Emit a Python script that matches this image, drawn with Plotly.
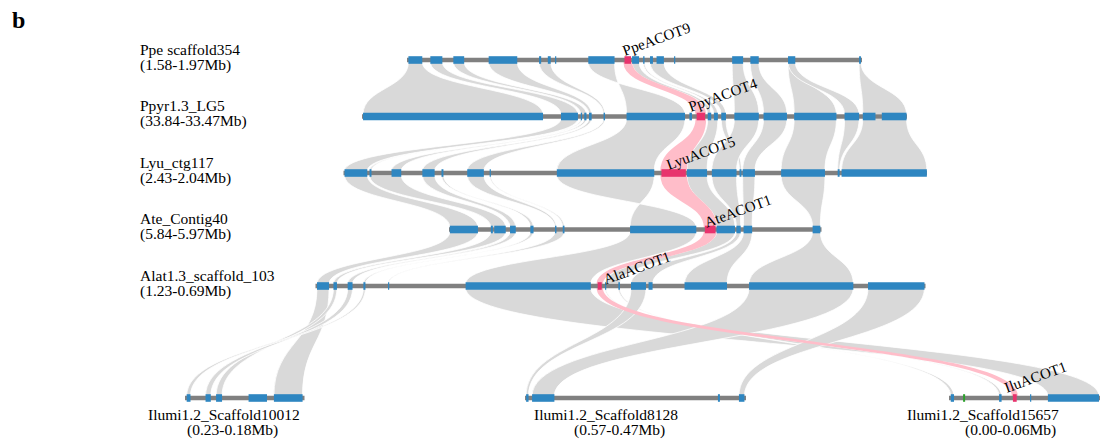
import plotly.graph_objects as go

# ---------------- data (genomic coordinates, Mb) ----------------
track_names = ["Ppe scaffold354", "Ppyr1.3_LG5", "Lyu_ctg117", "Ate_Contig40",
               "Alat1.3_scaffold_103", "Ilumi1.2_Scaffold10012",
               "Ilumi1.2_Scaffold8128", "Ilumi1.2_Scaffold15657"]
track_start_mb = [1.58, 33.84, 2.43, 5.84, 1.23, 0.23, 0.57, 0.00]
track_end_mb = [1.97, 33.47, 2.04, 5.97, 0.69, 0.18, 0.47, 0.06]

ppe_genes = [(1.5812, 1.5931), (1.6000, 1.6103), (1.6197, 1.6290), (1.6500, 1.6745),
             (1.6932, 1.6950), (1.7007, 1.7032), (1.7069, 1.7079), (1.7354, 1.7579),
             (1.7664, 1.7720), (1.7729, 1.7789), (1.7824, 1.7836), (1.7883, 1.7908),
             (1.7939, 1.8002), (1.8089, 1.8095), (1.8587, 1.8681), (1.8743, 1.8815),
             (1.9066, 1.9128), (1.9675, 1.9691)]
ppy_genes = [(33.8393, 33.7171), (33.7049, 33.6934), (33.6915, 33.6906), (33.6891, 33.6876),
             (33.6859, 33.6841), (33.6760, 33.6750), (33.6604, 33.6207), (33.6177, 33.6160),
             (33.6128, 33.6071), (33.6053, 33.6029), (33.6011, 33.5984), (33.5961, 33.5929),
             (33.5872, 33.5706), (33.5674, 33.5515), (33.5466, 33.5179), (33.5124, 33.5025),
             (33.5000, 33.4914), (33.4871, 33.4703)]
lyu_genes = [(2.4293, 2.4141), (2.4126, 2.4113), (2.3979, 2.3914), (2.3773, 2.3691),
             (2.3645, 2.3632), (2.3473, 2.3362), (2.3323, 2.3315), (2.2874, 2.2223),
             (2.2175, 2.2012), (2.2004, 2.1870), (2.1838, 2.1673), (2.1653, 2.1640),
             (2.1632, 2.1550), (2.1375, 2.1082), (2.0997, 2.0984), (2.0971, 2.0401)]
ate_genes = [(5.8403, 5.8501), (5.8546, 5.8553), (5.8558, 5.8598), (5.8613, 5.8633),
             (5.8684, 5.8695), (5.8770, 5.8775), (5.8797, 5.8803), (5.9032, 5.9263),
             (5.9293, 5.9330), (5.9334, 5.9398), (5.9403, 5.9418), (5.9428, 5.9458),
             (5.9669, 5.9696)]
alat_genes = [(1.2287, 1.2180), (1.2141, 1.2110), (1.2015, 1.1972), (1.1876, 1.1858),
              (1.1658, 1.1650), (1.0971, 0.9863), (0.9802, 0.9766), (0.9737, 0.9728),
              (0.9619, 0.9605), (0.9507, 0.9374), (0.9352, 0.9316), (0.9033, 0.8657),
              (0.8462, 0.7539), (0.7409, 0.6909)]
s10012_genes = [(0.2293, 0.2277), (0.2214, 0.2192), (0.2170, 0.2145), (0.2034, 0.1957),
                (0.1928, 0.1808)]
s8128_genes = [(0.5695, 0.5684), (0.5668, 0.5567), (0.4827, 0.4818), (0.4732, 0.4707)]
s15657_genes = [(0.0007, 0.0020), (0.0056, 0.0064), (0.0199, 0.0209), (0.0254, 0.0269),
                (0.0322, 0.0326), (0.0393, 0.0596)]
genes = [ppe_genes, ppy_genes, lyu_genes, ate_genes, alat_genes,
         s10012_genes, s8128_genes, s15657_genes]

# ACOT genes (track, gene index, name)
acot_track = [0, 1, 2, 3, 4, 7]
acot_gene = [8, 8, 8, 8, 6, 3]
acot_names = ["PpeACOT9", "PpyACOT4", "LyuACOT5", "AteACOT1", "AlaACOT1", "IluACOT1"]
other_track = [7]
other_gene = [1]

# syntenic links: (track A, first gene, last gene, track B, first gene, last gene, inverted)
links = [
    (0, 0, 0, 1, 0, 0, 0), (0, 1, 1, 1, 1, 1, 0), (0, 2, 2, 1, 2, 3, 0),
    (0, 3, 3, 1, 4, 4, 0), (0, 4, 5, 1, 5, 5, 0), (0, 7, 7, 1, 6, 6, 1),
    (0, 9, 9, 1, 9, 9, 0), (0, 10, 10, 1, 10, 10, 0), (0, 11, 12, 1, 11, 11, 0),
    (0, 14, 14, 1, 12, 12, 0), (0, 15, 15, 1, 13, 13, 0), (0, 16, 16, 1, 14, 14, 0),
    (0, 16, 16, 1, 15, 15, 0), (0, 17, 17, 1, 16, 17, 0),
    (1, 1, 1, 2, 0, 0, 0), (1, 2, 2, 2, 1, 1, 0), (1, 3, 3, 2, 2, 2, 0),
    (1, 4, 4, 2, 3, 3, 0), (1, 5, 5, 2, 5, 5, 0), (1, 6, 6, 2, 7, 7, 0),
    (1, 9, 10, 2, 9, 9, 0), (1, 11, 11, 2, 11, 11, 0), (1, 12, 12, 2, 10, 10, 0),
    (1, 13, 13, 2, 12, 12, 0), (1, 14, 14, 2, 13, 13, 0), (1, 15, 15, 2, 14, 14, 0),
    (1, 16, 17, 2, 15, 15, 0),
    (2, 0, 0, 3, 0, 0, 0), (2, 1, 2, 3, 1, 2, 0), (2, 3, 3, 3, 3, 3, 0),
    (2, 4, 4, 3, 4, 4, 0), (2, 5, 5, 3, 5, 5, 0), (2, 6, 6, 3, 6, 6, 0),
    (2, 7, 7, 3, 7, 7, 1), (2, 9, 9, 3, 9, 9, 0), (2, 10, 10, 3, 10, 10, 0),
    (2, 12, 12, 3, 11, 11, 0), (2, 13, 13, 3, 12, 12, 0),
    (3, 0, 0, 4, 0, 0, 0), (3, 1, 2, 4, 1, 1, 0), (3, 3, 3, 4, 2, 2, 0),
    (3, 4, 4, 4, 3, 3, 0), (3, 5, 6, 4, 4, 4, 0), (3, 7, 7, 4, 5, 5, 0),
    (3, 9, 9, 4, 7, 8, 0), (3, 10, 10, 4, 9, 10, 0), (3, 11, 11, 4, 11, 11, 0),
    (3, 12, 12, 4, 12, 12, 0),
    (4, 0, 0, 5, 4, 4, 0), (4, 1, 1, 5, 2, 2, 0), (4, 2, 2, 5, 1, 1, 0),
    (4, 3, 3, 5, 0, 0, 0), (4, 5, 5, 7, 5, 5, 0), (4, 7, 7, 7, 2, 2, 0),
    (4, 8, 8, 7, 0, 0, 0), (4, 9, 9, 6, 0, 0, 0), (4, 12, 12, 6, 1, 1, 0),
    (4, 13, 13, 6, 3, 3, 0),
]
acot_links = [
    (0, 8, 8, 1, 8, 8, 0), (1, 8, 8, 2, 8, 8, 0), (2, 8, 8, 3, 8, 8, 0),
    (3, 8, 8, 4, 6, 6, 0), (4, 6, 6, 7, 3, 3, 0),
]

# ---------------- layout (panel placement of each track) ----------------
track_row_y = [60, 116.5, 173, 229.5, 286, 398, 398, 398]
track_x0 = [407, 362, 343.5, 449, 315.5, 185, 525, 949]
track_x1 = [862, 907, 927, 821.5, 925.5, 304.5, 746, 1100]
label_line1_x = [138, 138, 138, 138, 138, 223.5, 606, 982.5]
label_line2_x = [138, 138, 138, 138, 138, 232, 619, 1010.5]
gene_label_dx = [29, 22, 27, 28, 37, 21]
gene_label_dy = [-21, -21.5, -20, -18.5, -18, -21]

BLUE = "#2e86c1"
PINK_BLOCK = "#e8336d"
PINK_LINK = "#ffbdc9"
GRAY_LINK = "#d9d9d9"
TRACK = "#808080"
GREEN = "#2ca02c"
FONT = "Liberation Serif, Times New Roman, serif"


def px(t, mb):
    s, e = track_start_mb[t], track_end_mb[t]
    return track_x0[t] + (mb - s) / (e - s) * (track_x1[t] - track_x0[t])


def ribbon_path(link):
    ta, a0, a1, tb, b0, b1, inv = link
    xa0 = px(ta, genes[ta][a0][0])
    xa1 = px(ta, genes[ta][a1][1])
    xb0 = px(tb, genes[tb][b0][0])
    xb1 = px(tb, genes[tb][b1][1])
    if inv:
        xb0, xb1 = xb1, xb0
    ya = track_row_y[ta] + 2
    yb = track_row_y[tb] - 2
    ym = (ya + yb) / 2
    return (f"M {xa0:.2f},{ya} C {xa0:.2f},{ym} {xb0:.2f},{ym} {xb0:.2f},{yb} "
            f"L {xb1:.2f},{yb} C {xb1:.2f},{ym} {xa1:.2f},{ym} {xa1:.2f},{ya} Z")


shapes = []
for lk in links:
    shapes.append(dict(type="path", xref="x", yref="y", path=ribbon_path(lk),
                       fillcolor=GRAY_LINK, line=dict(color="white", width=0.8),
                       layer="above"))
for lk in acot_links:
    shapes.append(dict(type="path", xref="x", yref="y", path=ribbon_path(lk),
                       fillcolor=PINK_LINK, line=dict(color=PINK_LINK, width=2.2),
                       layer="above"))

# chromosome backbones
for t in range(len(track_names)):
    shapes.append(dict(type="line", xref="x", yref="y",
                       x0=track_x0[t], x1=track_x1[t],
                       y0=track_row_y[t], y1=track_row_y[t],
                       line=dict(color=TRACK, width=4.5), layer="above"))

# gene blocks
special = {}
for t, g in zip(acot_track, acot_gene):
    special[(t, g)] = PINK_BLOCK
for t, g in zip(other_track, other_gene):
    special[(t, g)] = GREEN
for t, glist in enumerate(genes):
    for gi, (g0, g1) in enumerate(glist):
        x0, x1 = sorted((px(t, g0), px(t, g1)))
        shapes.append(dict(type="rect", xref="x", yref="y",
                           x0=x0, x1=max(x1, x0 + 1.2),
                           y0=track_row_y[t] - 3.8, y1=track_row_y[t] + 3.8,
                           fillcolor=special.get((t, gi), BLUE),
                           line=dict(width=0), layer="above"))

annotations = []
for t, name in enumerate(track_names):
    rng = f"({track_start_mb[t]:.2f}-{track_end_mb[t]:.2f}Mb)"
    if t < 5:
        annotations.append(dict(x=label_line1_x[t], y=track_row_y[t] - 11, text=name,
                                xanchor="left", yanchor="middle", showarrow=False,
                                font=dict(family=FONT, size=15.5, color="black")))
        annotations.append(dict(x=label_line2_x[t], y=track_row_y[t] + 4.5, text=rng,
                                xanchor="left", yanchor="middle", showarrow=False,
                                font=dict(family=FONT, size=15.5, color="black")))
    else:
        annotations.append(dict(x=label_line1_x[t], y=track_row_y[t] + 16.5, text=name,
                                xanchor="center", yanchor="middle", showarrow=False,
                                font=dict(family=FONT, size=15.5, color="black")))
        annotations.append(dict(x=label_line2_x[t], y=track_row_y[t] + 32.2, text=rng,
                                xanchor="center", yanchor="middle", showarrow=False,
                                font=dict(family=FONT, size=15.5, color="black")))

for i, name in enumerate(acot_names):
    t, g = acot_track[i], acot_gene[i]
    cx = (px(t, genes[t][g][0]) + px(t, genes[t][g][1])) / 2
    annotations.append(dict(x=cx + gene_label_dx[i], y=track_row_y[t] + gene_label_dy[i],
                            text=name, textangle=-20, xanchor="center", yanchor="middle",
                            showarrow=False,
                            font=dict(family=FONT, size=15, color="black")))

annotations.append(dict(x=18, y=20, text="<b>b</b>", xanchor="center", yanchor="middle",
                        showarrow=False, font=dict(family=FONT, size=24, color="black")))

fig = go.Figure()
fig.add_trace(go.Scatter(x=[0, 1103], y=[0, 441], mode="markers",
                         marker=dict(opacity=0), hoverinfo="skip", showlegend=False))
fig.update_layout(
    width=1103, height=441,
    margin=dict(l=0, r=0, t=0, b=0),
    paper_bgcolor="white", plot_bgcolor="white",
    xaxis=dict(range=[0, 1103], visible=False, fixedrange=True),
    yaxis=dict(range=[441, 0], visible=False, fixedrange=True),
    shapes=shapes, annotations=annotations, showlegend=False,
)
fig.write_html("out.html", config=dict(displayModeBar=False, staticPlot=True),
               post_script="document.body.style.margin='0';document.body.style.overflow='hidden';")
